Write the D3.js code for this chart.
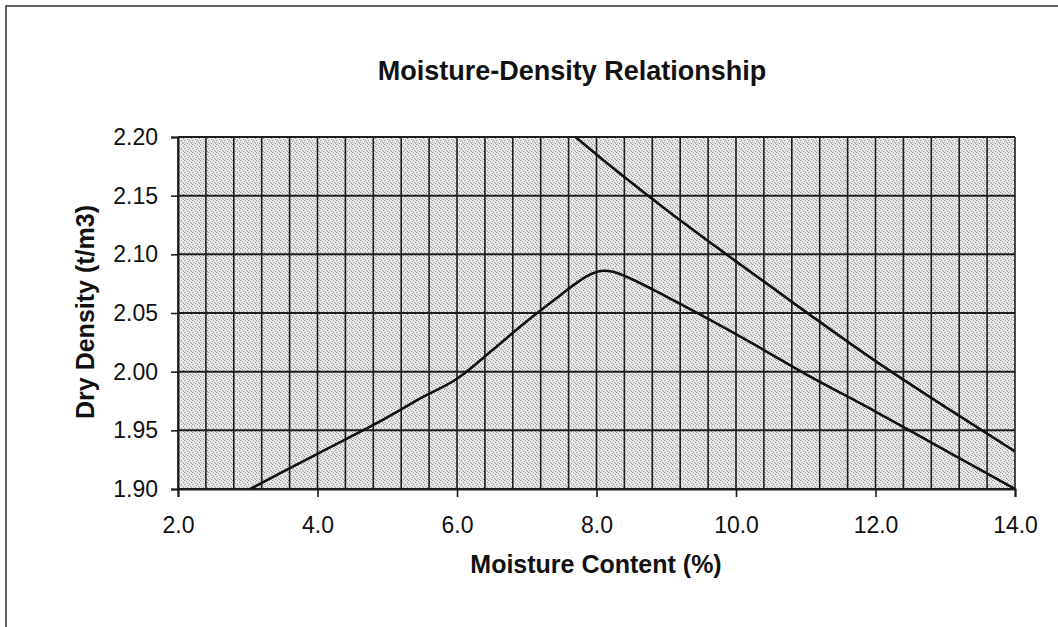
<!DOCTYPE html>
<html lang="en">
<head>
    <meta charset="UTF-8">
    <title>Moisture-Density Relationship</title>
    <script src="https://d3js.org/d3.v7.min.js"></script>
    <style>
        body { margin: 0; background: #fff; }
        text { font-family: "Liberation Sans", Arial, sans-serif; fill: #111; }
        .title { font-size: 27px; font-weight: bold; }
        .axis-title { font-size: 25px; font-weight: bold; }
        .tick text { font-size: 23px; }
        .grid line { stroke: #1e1e1e; }
    </style>
</head>
<body>
    <svg width="1058" height="627"></svg>

    <script>
        // values
        const moistureTest = [3.0, 4.0, 5.0, 5.5, 6.0, 6.5, 7.0, 7.5, 7.7, 7.85, 8.0, 8.1, 8.25, 8.5, 9.0, 10.0, 11.0, 12.0, 13.0, 14.0];
        const densityTest  = [1.899, 1.930, 1.961, 1.978, 1.994, 2.018, 2.043, 2.066, 2.075, 2.081, 2.085, 2.086, 2.085, 2.079, 2.064, 2.032, 1.998, 1.966, 1.933, 1.900];

        const moistureZav = [7.7, 8.0, 9.0, 10.0, 11.0, 12.0, 13.0, 14.0];
        const densityZav  = [2.200, 2.185, 2.138, 2.094, 2.051, 2.009, 1.970, 1.932];

        const xTicks = [2, 4, 6, 8, 10, 12, 14];
        const yTicks = [1.90, 1.95, 2.00, 2.05, 2.10, 2.15, 2.20];
        const xGridStep = 0.4;

        const svg = d3.select("svg");

        const plotLeft = 178, plotRight = 1015, plotTop = 137, plotBottom = 489;

        const x = d3.scaleLinear().domain([2, 14]).range([plotLeft, plotRight]);
        const y = d3.scaleLinear().domain([1.9, 2.2]).range([plotBottom, plotTop]);

        // outer frame of the scanned page
        svg.append("path")
            .attr("d", "M6,627 V6 H1058")
            .attr("fill", "none")
            .attr("stroke", "#333")
            .attr("stroke-width", 1.5);

        // stippled plot background (fixed dot layout in an 8px tile)
        const defs = svg.append("defs");
        const pat = defs.append("pattern")
            .attr("id", "stipple")
            .attr("patternUnits", "userSpaceOnUse")
            .attr("width", 8)
            .attr("height", 8);
        pat.append("rect").attr("width", 8).attr("height", 8).attr("fill", "#e6e6e6");
        const dots = [[0, 0, "#8e8e8e"], [5, 0, "#a8a8a8"], [2, 1, "#9c9c9c"], [7, 2, "#8e8e8e"],
                      [3, 3, "#a4a4a4"], [0, 4, "#9a9a9a"], [5, 4, "#8a8a8a"], [1, 6, "#a0a0a0"],
                      [6, 6, "#949494"], [3, 7, "#8e8e8e"], [4, 5, "#b0b0b0"], [7, 7, "#a6a6a6"]];
        dots.forEach(p => {
            pat.append("rect")
                .attr("x", p[0]).attr("y", p[1])
                .attr("width", 1).attr("height", 1)
                .attr("fill", p[2]);
        });

        defs.append("clipPath")
            .attr("id", "plotClip")
            .append("rect")
            .attr("x", plotLeft).attr("y", plotTop)
            .attr("width", plotRight - plotLeft).attr("height", plotBottom - plotTop);

        svg.append("rect")
            .attr("x", plotLeft).attr("y", plotTop)
            .attr("width", plotRight - plotLeft).attr("height", plotBottom - plotTop)
            .attr("fill", "url(#stipple)");

        // grid
        const xGrid = d3.range(0, 31).map(i => 2 + i * xGridStep);
        svg.append("g")
            .attr("class", "grid")
            .selectAll("line")
            .data(xGrid)
            .enter().append("line")
            .attr("x1", d => x(d)).attr("x2", d => x(d))
            .attr("y1", plotTop).attr("y2", plotBottom)
            .attr("stroke-width", 1.6);

        svg.append("g")
            .attr("class", "grid")
            .selectAll("line")
            .data(yTicks)
            .enter().append("line")
            .attr("x1", plotLeft).attr("x2", plotRight)
            .attr("y1", d => y(d)).attr("y2", d => y(d))
            .attr("stroke-width", 2);

        // axes
        const xAxis = svg.append("g")
            .attr("transform", `translate(0,${plotBottom})`)
            .call(d3.axisBottom(x).tickValues(xTicks).tickFormat(d3.format(".1f")).tickSize(8).tickPadding(20));
        const yAxis = svg.append("g")
            .attr("transform", `translate(${plotLeft},0)`)
            .call(d3.axisLeft(y).tickValues(yTicks).tickFormat(d3.format(".2f")).tickSize(7).tickPadding(13));

        [xAxis, yAxis].forEach(a => {
            a.select(".domain").attr("stroke", "#1e1e1e").attr("stroke-width", 2);
            a.selectAll(".tick line").attr("stroke", "#1e1e1e").attr("stroke-width", 1.6);
            a.selectAll(".tick text").attr("fill", "#111");
        });

        // curves
        const line = d3.line()
            .x(d => x(d[0]))
            .y(d => y(d[1]))
            .curve(d3.curveMonotoneX);

        const curves = svg.append("g").attr("clip-path", "url(#plotClip)");
        curves.append("path")
            .datum(d3.zip(moistureTest, densityTest))
            .attr("d", line)
            .attr("fill", "none")
            .attr("stroke", "#111")
            .attr("stroke-width", 2.6);
        curves.append("path")
            .datum(d3.zip(moistureZav, densityZav))
            .attr("d", line)
            .attr("fill", "none")
            .attr("stroke", "#111")
            .attr("stroke-width", 2.6);

        // titles
        svg.append("text")
            .attr("class", "title")
            .attr("x", 572).attr("y", 80)
            .attr("text-anchor", "middle")
            .text("Moisture-Density Relationship");

        svg.append("text")
            .attr("class", "axis-title")
            .attr("x", 596).attr("y", 573)
            .attr("text-anchor", "middle")
            .text("Moisture Content (%)");

        svg.append("text")
            .attr("class", "axis-title")
            .attr("transform", "translate(94,312) rotate(-90)")
            .attr("text-anchor", "middle")
            .text("Dry Density (t/m3)");
    </script>
</body>
</html>
